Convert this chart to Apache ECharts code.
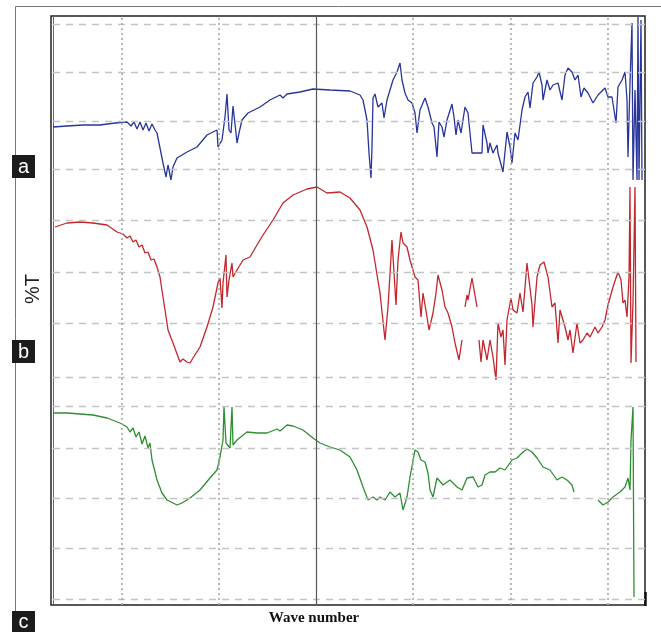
<!DOCTYPE html>
<html>
<head>
<meta charset="utf-8">
<script src="https://cdn.jsdelivr.net/npm/echarts@6/dist/echarts.min.js"></script>
<style>
  html, body { margin: 0; padding: 0; background: #fff; }
  #main { width: 661px; height: 632px; }
</style>
</head>
<body>
<div id="main"></div>
<script>
// wave number (cm-1) / %T (stacked, arbitrary offset)
const blueWn = [3988, 3904, 3808, 3706, 3616, 3544, 3520, 3502, 3484, 3466, 3448, 3430, 3412, 3394, 3376, 3364, 3346, 3328, 3310, 3298,
  3280, 3268, 3244, 3184, 3124, 3064, 3004, 2998, 2974, 2956, 2944, 2932, 2920, 2908, 2890, 2884, 2872, 2854, 2818, 2746,
  2686, 2626, 2608, 2584, 2506, 2428, 2326, 2206, 2146, 2128, 2104, 2092, 2080, 2074, 2068, 2056, 2038, 2014, 2002, 1984,
  1966, 1948, 1924, 1906, 1894, 1876, 1858, 1834, 1816, 1804, 1786, 1756, 1738, 1714, 1702, 1684, 1672, 1654, 1642, 1624,
  1594, 1582, 1570, 1558, 1540, 1516, 1498, 1474, 1444, 1414, 1408, 1384, 1378, 1366, 1348, 1324, 1318, 1288, 1264, 1246,
  1234, 1216, 1198, 1174, 1156, 1138, 1126, 1108, 1084, 1072, 1054, 1048, 1024, 1006, 988, 958, 934, 916, 898, 874,
  856, 838, 820, 802, 778, 748, 718, 676, 658, 634, 610, 598, 574, 556, 544, 538, 526, 514, 508, 496,
  484, 478, 472, 460, 454];
const blueT = [95.6, 95.8, 96.0, 96.0, 96.4, 96.6, 95.8, 96.6, 95.2, 96.6, 95.0, 96.4, 94.8, 96.2, 95.0, 94.4, 91.4, 88.4, 85.6, 88.0,
  85.0, 87.6, 89.4, 90.6, 91.6, 94.0, 95.0, 91.6, 93.0, 97.6, 102.2, 95.0, 94.4, 99.8, 94.4, 92.4, 94.4, 97.0, 98.4, 99.6,
  101.0, 102.0, 101.4, 102.2, 102.6, 103.2, 103.0, 102.8, 102.0, 101.0, 97.0, 90.4, 85.4, 91.6, 101.4, 102.2, 99.6, 100.4, 97.4, 101.0,
  103.0, 105.0, 106.6, 108.4, 105.0, 102.4, 101.0, 100.4, 98.4, 94.4, 99.0, 101.4, 99.6, 96.4, 95.6, 89.6, 96.6, 95.6, 93.6, 97.0,
  100.2, 97.6, 94.0, 97.0, 94.4, 99.6, 98.4, 90.4, 90.4, 90.4, 96.0, 92.4, 90.4, 92.4, 90.4, 92.0, 90.4, 86.6, 94.6, 91.6,
  88.4, 94.4, 93.0, 99.0, 101.6, 102.6, 99.4, 104.4, 105.6, 106.6, 104.0, 101.0, 105.0, 103.0, 104.0, 104.4, 101.0, 106.0, 107.4, 106.6,
  105.0, 106.0, 101.6, 103.4, 102.4, 100.4, 102.0, 103.4, 101.6, 101.6, 96.4, 103.6, 105.0, 106.6, 101.0, 89.6, 104.4, 116.4, 85.0, 103.0,
  85.0, 117.6, 85.0, 117.0, 85.0];

const redWn = [3976, 3904, 3826, 3748, 3664, 3604, 3568, 3544, 3526, 3508, 3490, 3472, 3454, 3436, 3418, 3400, 3382, 3364, 3346, 3328,
  3304, 3298, 3268, 3226, 3208, 3184, 3166, 3148, 3106, 3064, 3028, 2998, 2986, 2974, 2968, 2950, 2944, 2932, 2914, 2908,
  2884, 2848, 2806, 2764, 2728, 2668, 2608, 2548, 2464, 2404, 2344, 2266, 2206, 2146, 2104, 2068, 2026, 1996, 1978, 1954,
  1948, 1930, 1918, 1900, 1888, 1864, 1846, 1816, 1798, 1780, 1768, 1744, 1732, 1708, 1690, 1678, 1654, 1636, 1618, 1594,
  1576, 1552, 1534, 1525, 1516, 1504, 1498, 1474, 1462, 1444, 1438, 1432, 1420, 1408, 1384, 1366, 1348, 1330, 1318, 1300,
  1288, 1276, 1264, 1240, 1228, 1204, 1186, 1168, 1144, 1132, 1114, 1108, 1084, 1066, 1042, 1018, 994, 976, 958, 946,
  916, 898, 886, 868, 844, 826, 808, 784, 766, 736, 718, 694, 676, 658, 628, 598, 580, 568, 556, 544,
  532, 526, 520, 508, 496, 490];
const redT = [75.6, 76.4, 76.6, 76.4, 76.0, 74.6, 74.2, 73.4, 73.8, 72.6, 73.0, 71.6, 72.0, 70.4, 70.6, 69.0, 69.2, 67.6, 65.6, 61.6,
  56.4, 55.0, 52.4, 48.6, 49.2, 48.6, 48.4, 49.4, 51.6, 55.6, 59.6, 64.4, 65.4, 59.4, 64.4, 70.0, 61.6, 65.0, 68.4, 65.6,
  67.0, 69.0, 69.6, 72.0, 74.0, 77.0, 80.4, 82.0, 83.2, 83.6, 82.4, 82.6, 81.4, 79.0, 75.6, 71.0, 62.4, 53.0, 59.6, 73.0,
  73.4, 60.0, 69.0, 74.6, 72.4, 71.6, 69.0, 65.6, 65.0, 57.6, 62.4, 57.6, 55.0, 58.4, 62.4, 66.0, 63.0, 59.6, 58.4, 55.6,
  52.4, 49.0, 53.0, null, 59.6, 62.0, 61.0, 65.4, 65.0, 59.6, null, 53.0, 48.6, 53.0, 49.0, 53.0, 49.6, 45.0, 56.4, 53.6,
  55.0, 48.0, 57.0, 61.4, 59.0, 58.4, 62.4, 58.6, 68.4, 68.6, 60.0, 55.6, 65.6, 68.0, 68.6, 65.6, 59.6, 60.4, 52.4, 59.0,
  55.6, 53.0, 55.0, 50.4, 56.4, 52.4, 53.0, 54.4, 53.6, 55.6, 54.4, 55.6, 57.0, 60.0, 63.6, 66.6, 65.0, 60.4, 61.0, 57.6,
  65.4, 83.6, 48.4, 60.6, 83.6, 48.6];

const greenWn = [3988, 3904, 3826, 3748, 3664, 3586, 3544, 3526, 3508, 3490, 3472, 3454, 3436, 3418, 3406, 3394, 3364, 3334, 3304, 3244,
  3214, 3166, 3106, 3046, 3004, 2986, 2968, 2962, 2950, 2926, 2914, 2908, 2884, 2824, 2764, 2704, 2644, 2626, 2584, 2548,
  2488, 2428, 2386, 2326, 2266, 2206, 2164, 2128, 2098, 2068, 2044, 2026, 1996, 1966, 1936, 1906, 1888, 1864, 1846, 1816,
  1798, 1780, 1756, 1738, 1726, 1708, 1684, 1648, 1606, 1564, 1534, 1504, 1468, 1438, 1414, 1396, 1366, 1336, 1306, 1276,
  1234, 1204, 1174, 1144, 1114, 1084, 1048, 1006, 964, 934, 904, 874, 862, 790, 718, 688, 658, 628, 586, 556,
  538, 526, 520, 508, 502];
const greenT = [38.4, 38.4, 38.2, 38.0, 37.4, 36.4, 35.6, 34.6, 35.4, 33.6, 34.6, 32.2, 33.8, 31.4, 32.4, 29.0, 25.0, 22.4, 21.0, 20.0,
  20.4, 21.4, 23.0, 25.4, 27.0, 29.6, 33.0, 39.6, 32.4, 31.4, 39.6, 32.0, 33.0, 34.6, 34.4, 34.4, 35.2, 34.8, 36.0, 35.8,
  35.0, 33.4, 32.4, 31.6, 31.0, 29.6, 27.0, 23.6, 21.0, 21.6, 21.0, 21.6, 21.0, 22.6, 21.6, 22.4, 19.0, 21.6, 25.6, 31.0,
  30.6, 29.0, 28.6, 26.4, 23.0, 21.6, 25.4, 24.0, 25.0, 23.6, 23.0, 25.4, 25.6, 23.6, 24.0, 26.0, 26.6, 26.6, 27.4, 27.0,
  29.0, 29.4, 30.4, 31.2, 30.6, 29.4, 27.6, 27.0, 25.0, 25.6, 25.0, 24.0, 22.6, null, 21.0, 20.0, 20.6, 21.6, 22.6, 23.6,
  25.4, 23.0, 33.0, 39.6, 1.6];

// dashed horizontal and dotted vertical guide lines
const hLines = [116.2, 106.6, 96.8, 87.2, 77.0, 66.6, 56.4, 45.6, 39.8, 31.4, 21.4, 11.4, 1.2];
const vLines = [3574, 2992, 1828, 1240, 658];
const vSolid = 2410;

const zip = (xs, ys) => xs.map((x, i) => [x, ys[i] === null ? '-' : ys[i]]);

const chart = echarts.init(document.getElementById('main'));

function spectrum(name, xs, ys, color) {
  return {
    name: name,
    type: 'line',
    data: zip(xs, ys),
    showSymbol: false,
    connectNulls: false,
    z: 3,
    lineStyle: { color: color, width: 1.3 },
    emphasis: { disabled: true }
  };
}

chart.setOption({
  animation: false,
  grid: {
    left: 51, top: 16, width: 594, height: 589,
    show: true, borderColor: '#222', borderWidth: 1.5
  },
  xAxis: {
    type: 'value', inverse: true, min: 436, max: 4000,
    axisLine: { show: false }, axisTick: { show: false },
    axisLabel: { show: false }, splitLine: { show: false }
  },
  yAxis: {
    type: 'value', min: 0, max: 117.8,
    axisLine: { show: false }, axisTick: { show: false },
    axisLabel: { show: false }, splitLine: { show: false }
  },
  series: [
    {
      name: 'guides',
      type: 'line',
      data: [],
      z: 1,
      markLine: {
        silent: true,
        symbol: 'none',
        label: { show: false },
        animation: false,
        data: [
          ...hLines.map(v => ({ yAxis: v, lineStyle: { color: '#c4c4c4', type: [7, 6], width: 1.3 } })),
          ...vLines.map(v => ({ xAxis: v, lineStyle: { color: '#a8a8a8', type: [2, 3], width: 1.6 } })),
          { xAxis: vSolid, lineStyle: { color: '#555', type: 'solid', width: 1.2 } }
        ]
      }
    },
    spectrum('a', blueWn, blueT, '#28359a'),
    spectrum('b', redWn, redT, '#c3262d'),
    spectrum('c', greenWn, greenT, '#2d8f30')
  ],
  graphic: [
    {
      type: 'rect', left: 13, top: 4, silent: true,
      shape: { width: 646, height: 640 },
      style: { fill: 'none', stroke: '#777', lineWidth: 1 }
    },
    // inner second left rule and heavier lower-right corner of the frame
    {
      type: 'line', silent: true,
      shape: { x1: 53.5, y1: 16, x2: 53.5, y2: 605 },
      style: { stroke: '#666', lineWidth: 1 }
    },
    {
      type: 'line', silent: true,
      shape: { x1: 645.5, y1: 592, x2: 645.5, y2: 606 },
      style: { stroke: '#111', lineWidth: 2.5 }
    },
    {
      type: 'text', x: 33, y: 289, rotation: Math.PI / 2,
      style: { text: '%T', font: '20px "Liberation Sans", Arial', fill: '#222', align: 'center', verticalAlign: 'middle' }
    },
    {
      type: 'text', x: 314, y: 618,
      style: { text: 'Wave number', font: 'bold 15px "Liberation Serif", "Times New Roman"', fill: '#111', align: 'center', verticalAlign: 'middle' }
    },
    ...[['a', 155, 23], ['b', 340, 23], ['c', 611, 22]].map(([t, y, h]) => ({
      type: 'group', left: 12, top: y,
      children: [
        { type: 'rect', shape: { x: 0, y: 0, width: 23, height: h }, style: { fill: '#1c1c1c' } },
        { type: 'text', x: 11.5, y: h / 2 + 0.5, style: { text: t, font: '20px "Liberation Sans", Arial', fill: '#fff', align: 'center', verticalAlign: 'middle' } }
      ]
    }))
  ]
});
</script>
</body>
</html>
